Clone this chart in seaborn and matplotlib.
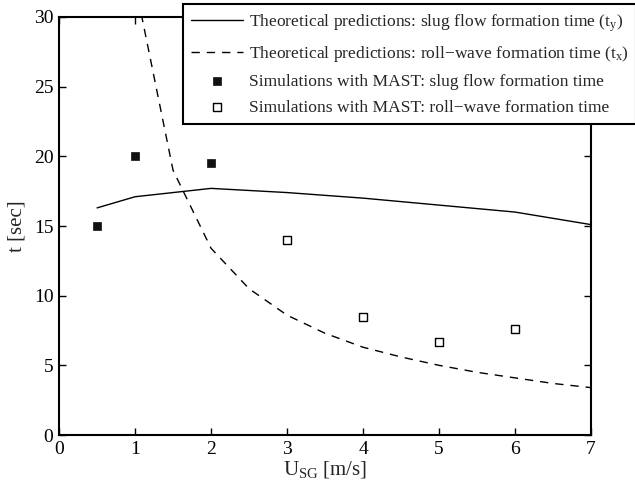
import matplotlib
matplotlib.use("Agg")
import matplotlib.pyplot as plt
import seaborn as sns
import pandas as pd

# theoretical predictions: slug flow formation time (t_y)
usg_ty = [0.5, 1, 2, 3, 4, 5, 6, 7]
t_ty = [16.3, 17.1, 17.7, 17.4, 17.0, 16.5, 16.0, 15.1]

# theoretical predictions: roll-wave formation time (t_x)
usg_tx = [1, 1.5, 2, 2.5, 3, 3.5, 4, 4.5, 5, 5.5, 6, 6.5, 7]
t_tx = [32.4, 19.0, 13.4, 10.5, 8.6, 7.3, 6.3, 5.6, 5.0, 4.5, 4.1, 3.7, 3.4]

# MAST simulations
usg_slug = [0.5, 1, 2]
t_slug = [15.0, 20.0, 19.5]
usg_roll = [3, 4, 5, 6]
t_roll = [14.0, 8.5, 6.7, 7.6]

labels = [
    "Theoretical predictions: slug flow formation time (t$\\mathregular{_y}$)",
    "Theoretical predictions: roll\u2212wave formation time (t$\\mathregular{_x}$)",
    "Simulations with MAST: slug flow formation time",
    "Simulations with MAST: roll\u2212wave formation time",
]

sns.set_theme(style="ticks")
plt.rcParams["font.family"] = ["Liberation Serif", "DejaVu Serif"]
plt.rcParams["mathtext.fontset"] = "custom"
plt.rcParams["mathtext.rm"] = "Liberation Serif"

fig = plt.figure(figsize=(6.35, 4.94), dpi=100)
ax = fig.add_axes([0.093, 0.1194, 0.8378, 0.8462])

ty = pd.DataFrame({"usg": usg_ty, "t": t_ty})
tx = pd.DataFrame({"usg": usg_tx, "t": t_tx})
slug = pd.DataFrame({"usg": usg_slug, "t": t_slug})
roll = pd.DataFrame({"usg": usg_roll, "t": t_roll})

sns.lineplot(data=ty, x="usg", y="t", ax=ax, color="black", lw=1.0,
             label=labels[0])
sns.lineplot(data=tx, x="usg", y="t", ax=ax, color="black", lw=1.0,
             linestyle=(0, (6, 5)), label=labels[1])
sns.scatterplot(data=slug, x="usg", y="t", ax=ax, marker="s", s=40,
                color="#111111", edgecolor="#111111", linewidth=0.5,
                label=labels[2], zorder=3)
sns.scatterplot(data=roll, x="usg", y="t", ax=ax, marker="s", s=40,
                facecolor="white", edgecolor="black", linewidth=1.0,
                label=labels[3], zorder=3)

ax.set_xlim(0, 7)
ax.set_ylim(0, 30)
ax.set_xticks(range(0, 8))
ax.set_yticks(range(0, 31, 5))
ax.tick_params(direction="in", length=5, width=1, top=True, right=True,
               labelsize=14, colors="black", pad=4)
for s in ax.spines.values():
    s.set_visible(True)
    s.set_linewidth(1.5)
    s.set_color("black")

ax.set_xlabel("U$\\mathregular{_{SG}}$ [m/s]", fontsize=15, labelpad=1)
ax.set_ylabel("t [sec]", fontsize=15, labelpad=5)

leg = ax.legend(loc="upper left", bbox_to_anchor=(0.288, 0.991),
                bbox_transform=fig.transFigure, fontsize=12.6,
                frameon=True, fancybox=False, framealpha=1,
                edgecolor="black", handlelength=3.0, handletextpad=0.3,
                labelspacing=0.56, borderpad=0.45, borderaxespad=0)
leg.get_frame().set_linewidth(1.5)

fig.savefig("out.png", dpi=100)
